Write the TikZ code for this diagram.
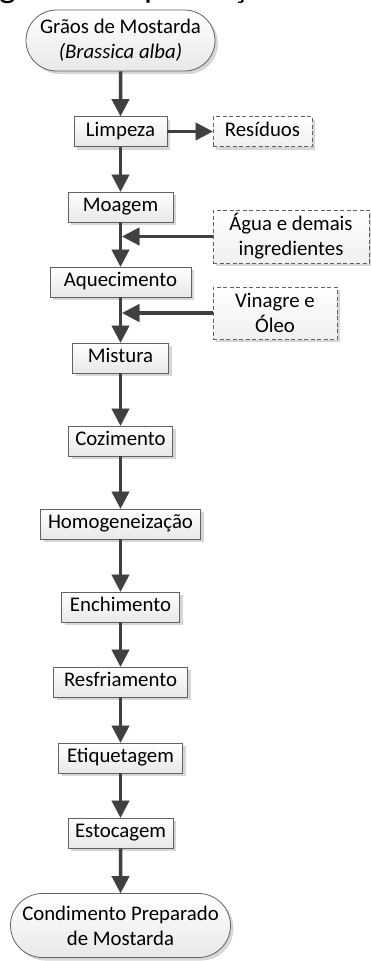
\documentclass[tikz,border=0pt]{standalone}
\usepackage{fontspec}
\setmainfont{Carlito}
\usetikzlibrary{arrows.meta,shapes.misc,shadows}
\definecolor{arrowc}{HTML}{404040}
\definecolor{borderc}{HTML}{626262}
\definecolor{shadowc}{HTML}{D6D6D6}
\begin{document}
\begin{tikzpicture}[x=1pt,y=-1pt,
  every node/.style={font=\fontsize{20.8}{25}\selectfont, inner sep=0pt},
  shadowed/.style={drop shadow={shadow xshift=3pt, shadow yshift=-3pt, fill=shadowc, opacity=1}},
  procbox/.style={rectangle, draw=borderc, line width=0.8pt, top color=white, bottom color=black!9,
    minimum height=30pt, text height=13.5pt, text depth=4.5pt, shadowed},
  termbox/.style={rounded rectangle, draw=borderc, line width=0.8pt, top color=white, bottom color=black!9,
    align=center, shadowed},
  inbox/.style={rectangle, draw=borderc, line width=0.8pt, dash pattern=on 4pt off 2.5pt,
    top color=white, bottom color=black!6, align=center, shadowed},
  arr/.style={draw=arrowc, line width=3.5pt, -{Triangle[length=17pt,width=18pt,line width=0.1pt]}}
]
\useasboundingbox (0,0) rectangle (371,961);

% caption (cut off at the top edge)
\node[anchor=base west, font=\fontsize{36}{40}\selectfont] (cap) at (-1,-2) {\llap{Fluxo}grama de produção da mostarda};

% main flow
\node[termbox, minimum width=189pt, minimum height=61pt] (start) at (120.5,40.5) {Grãos de Mostarda\\\textit{(Brassica alba)}};
\node[procbox, minimum width=93pt]  (limp)  at (120.5,131.5) {Limpeza};
\node[procbox, minimum width=105pt] (moag)  at (120.5,207)   {Moagem};
\node[procbox, minimum width=141pt] (aquec) at (120.5,282)   {Aquecimento};
\node[procbox, minimum width=96pt]  (mist)  at (120.5,358)   {Mistura};
\node[procbox, minimum width=104pt] (coz)   at (120.5,441)   {Cozimento};
\node[procbox, minimum width=160pt] (homog) at (120.5,524)   {Homogeneização};
\node[procbox, minimum width=118pt] (ench)  at (120.5,607)   {Enchimento};
\node[procbox, minimum width=134pt] (resf)  at (120.5,682)   {Resfriamento};
\node[procbox, minimum width=124pt] (etiq)  at (120.5,758)   {Etiquetagem};
\node[procbox, minimum width=105pt] (estoc) at (120.5,833)   {Estocagem};
\node[termbox, minimum width=220pt, minimum height=64pt] (fim) at (120.5,925.5) {Condimento Preparado\\de Mostarda};

% side boxes
\node[inbox, minimum width=99pt, minimum height=30pt, text height=13.5pt, text depth=4.5pt] (res) at (262.5,131.5) {Resíduos};
\node[inbox, minimum width=156pt, minimum height=53pt] (agua) at (291,236.5) {Água e demais\\ingredientes};
\node[inbox, minimum width=124pt, minimum height=52pt] (vin) at (275,313) {Vinagre e\\Óleo};

\coordinate (j1) at (122.3,236.5);
\coordinate (j2) at (122.3,313);

% connectors
\draw[arr] (start) -- (limp);
\draw[arr] (limp) -- (res);
\draw[arr] (limp) -- (moag);
\draw[arr] (moag) -- (aquec);
\draw[arr] (agua) -- (j1);
\draw[arr] (aquec) -- (mist);
\draw[arr] (vin) -- (j2);
\draw[arr] (mist) -- (coz);
\draw[arr] (coz) -- (homog);
\draw[arr] (homog) -- (ench);
\draw[arr] (ench) -- (resf);
\draw[arr] (resf) -- (etiq);
\draw[arr] (etiq) -- (estoc);
\draw[arr] (estoc) -- (fim);
\end{tikzpicture}
\end{document}
